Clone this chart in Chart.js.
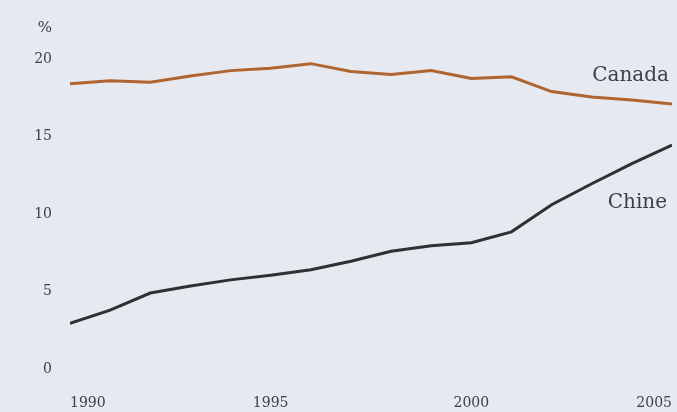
<!DOCTYPE html>
<html>
<head>
<meta charset="utf-8">
<script src="https://cdn.jsdelivr.net/npm/chart.js@4"></script>
<style>
  html, body { margin: 0; padding: 0; background: #e6e9ef; }
  #wrap { width: 677px; height: 412px; position: relative; }
</style>
</head>
<body>
<div id="wrap"><canvas id="shareChart"></canvas></div>
<script>
// years on the x axis
const years = [1990, 1991, 1992, 1993, 1994, 1995, 1996, 1997, 1998, 1999, 2000, 2001, 2002, 2003, 2004, 2005];
// share in %
const canada = [18.4, 18.6, 18.5, 18.9, 19.25, 19.4, 19.7, 19.2, 19.0, 19.25, 18.75, 18.85, 17.9, 17.55, 17.35, 17.1];
const chine = [2.95, 3.8, 4.9, 5.35, 5.75, 6.05, 6.4, 6.95, 7.6, 7.95, 8.15, 8.85, 10.6, 11.95, 13.25, 14.45];
const yTicks = [0, 5, 10, 15, 20];
const xTicks = [1990, 1995, 2000, 2005];

const serif = "'DejaVu Serif', 'Liberation Serif', serif";
const textColor = '#3b4047';

const ctx = document.getElementById('shareChart').getContext('2d');

// draws the "%" unit and the series names next to the lines
const labelPlugin = {
    id: 'labels',
    afterDraw(chart) {
        const c = chart.ctx;
        const x = chart.scales.x;
        const y = chart.scales.y;
        c.save();
        c.fillStyle = textColor;
        c.textAlign = 'right';
        c.textBaseline = 'alphabetic';
        c.font = '15px ' + serif;
        c.fillText('%', x.left - 18, 32);
        c.font = '20px ' + serif;
        c.fillText('Canada', x.getPixelForValue(2005) - 3, y.getPixelForValue(18.55));
        c.fillText('Chine', x.getPixelForValue(2005) - 5, y.getPixelForValue(10.4));
        c.restore();
    }
};

const shareChart = new Chart(ctx, {
    type: 'line',
    data: {
        labels: years,
        datasets: [{
            label: 'Canada',
            data: years.map((yr, i) => ({ x: yr, y: canada[i] })),
            borderColor: '#b0642f',
            borderWidth: 3,
            pointRadius: 0,
            tension: 0
        }, {
            label: 'Chine',
            data: years.map((yr, i) => ({ x: yr, y: chine[i] })),
            borderColor: '#2c3131',
            borderWidth: 3,
            pointRadius: 0,
            tension: 0
        }]
    },
    options: {
        responsive: true,
        maintainAspectRatio: false,
        animation: false,
        layout: { padding: { top: 59, right: 5, left: 0, bottom: 0 } },
        plugins: {
            legend: { display: false },
            tooltip: { enabled: false }
        },
        scales: {
            x: {
                type: 'linear',
                min: 1990,
                max: 2005,
                afterBuildTicks: (axis) => { axis.ticks = xTicks.map(v => ({ value: v })); },
                afterFit: (axis) => {
                    axis.height = 43;
                    axis.paddingLeft = 0;
                    axis.paddingRight = 0;
                },
                grid: { display: false, drawTicks: false },
                border: { display: false },
                ticks: {
                    align: 'inner',
                    padding: 26,
                    color: textColor,
                    font: { family: serif, size: 14 },
                    callback: (v) => String(v)
                }
            },
            y: {
                min: 0,
                max: 20,
                afterBuildTicks: (axis) => { axis.ticks = yTicks.map(v => ({ value: v })); },
                afterFit: (axis) => { axis.width = 70; },
                grid: { display: false, drawTicks: false },
                border: { display: false },
                ticks: {
                    padding: 18,
                    color: textColor,
                    font: { family: serif, size: 14 }
                }
            }
        }
    },
    plugins: [labelPlugin]
});
</script>
</body>
</html>
